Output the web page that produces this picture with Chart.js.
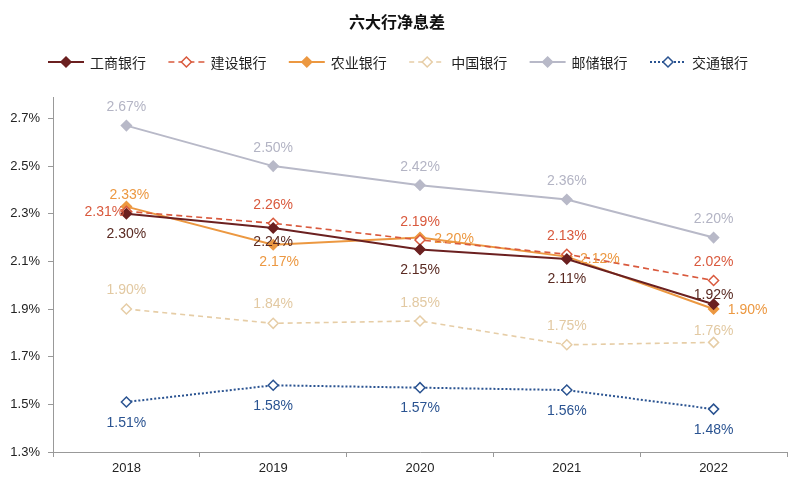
<!DOCTYPE html>
<html><head><meta charset="utf-8">
<script src="https://cdn.jsdelivr.net/npm/chart.js@4"></script>
<style>html,body{margin:0;padding:0;background:#fff}#wrap{width:800px;height:480px}</style>
</head><body><div id="wrap"><canvas id="c" width="800" height="480"></canvas></div>
<script>
const years = ['2018','2019','2020','2021','2022'];
const icbc = [2.30, 2.24, 2.15, 2.11, 1.92];
const ccb  = [2.31, 2.26, 2.19, 2.13, 2.02];
const abc  = [2.33, 2.17, 2.20, 2.12, 1.90];
const boc  = [1.90, 1.84, 1.85, 1.75, 1.76];
const psbc = [2.67, 2.50, 2.42, 2.36, 2.20];
const bocom = [1.51, 1.58, 1.57, 1.56, 1.48];
const seriesNames = ['工商银行','建设银行','农业银行','中国银行','邮储银行','交通银行'];
const yTickValues = [1.3, 1.5, 1.7, 1.9, 2.1, 2.3, 2.5, 2.7];
const titleText = '六大行净息差';

// label placement (pixel offsets from each point)
const labelOffsets = [
  [[0,20],[0,14],[0,21],[0,20],[0,-9]],
  [[-22,1],[0,-18],[0,-18],[0,-18],[0,-18]],
  [[3,-11],[6,17],[34,2],[33,3],[34,1]],
  [[0,-19],[0,-19],[0,-18],[0,-19],[0,-11]],
  [[0,-18],[0,-18],[0,-18],[0,-18],[0,-18]],
  [[0,21],[0,21],[0,20],[0,21],[0,21]]
];
const styles = [
  {color:'#6b2020', label:'#5a2a22', dash:[], width:2, fill:true},
  {color:'#d9593d', label:'#d9593d', dash:[6,4], width:1.6, fill:false},
  {color:'#ec9841', label:'#ec9841', dash:[], width:2, fill:true},
  {color:'#e6cda6', label:'#e2c9a2', dash:[5,4], width:1.6, fill:false},
  {color:'#b8b9c8', label:'#b3b4c4', dash:[], width:2, fill:true},
  {color:'#2a5391', label:'#2a5391', dash:[2,2], width:2, fill:false}
];
const allData = [icbc, ccb, abc, boc, psbc, bocom];

const datasets = allData.map((d,i)=>({
  label: seriesNames[i],
  data: d,
  borderColor: styles[i].color,
  backgroundColor: styles[i].fill ? styles[i].color : '#ffffff',
  borderWidth: styles[i].width,
  borderDash: styles[i].dash,
  pointStyle: 'rectRot',
  pointRadius: 5,
  pointBorderWidth: 1.5,
  pointBorderColor: styles[i].color,
  pointBackgroundColor: styles[i].fill ? styles[i].color : '#ffffff',
  tension: 0,
  fill: false
}));

const FONT = '"Liberation Sans", Arial, sans-serif';
const CJK = '"Noto Sans CJK SC", "Liberation Sans", sans-serif';

const decor = {
  id: 'decor',
  afterDatasetsDraw(chart) {
    const ctx = chart.ctx;
    ctx.save();
    ctx.font = '14px ' + FONT;
    ctx.textAlign = 'center';
    ctx.textBaseline = 'middle';
    chart.data.datasets.forEach((ds, i) => {
      const meta = chart.getDatasetMeta(i);
      meta.data.forEach((pt, j) => {
        const off = labelOffsets[i][j];
        ctx.fillStyle = styles[i].label;
        ctx.fillText(ds.data[j].toFixed(2) + '%', pt.x + off[0], pt.y + off[1]);
      });
    });
    ctx.restore();
  },
  afterDraw(chart) {
    const ctx = chart.ctx;
    ctx.save();
    ctx.fillStyle = '#111';
    ctx.font = 'bold 16px ' + CJK;
    ctx.textAlign = 'center';
    ctx.textBaseline = 'middle';
    ctx.fillText(titleText, 397, 22);
    // legend
    const ly = 62;
    ctx.font = '14px ' + CJK;
    ctx.textAlign = 'left';
    seriesNames.forEach((name, i) => {
      const x0 = 48 + i * 120.4;
      const s = styles[i];
      ctx.strokeStyle = s.color;
      ctx.lineWidth = s.width;
      ctx.setLineDash(s.dash);
      ctx.beginPath();
      ctx.moveTo(x0, ly); ctx.lineTo(x0 + 36, ly);
      ctx.stroke();
      ctx.setLineDash([]);
      const mx = x0 + 18, r = 5;
      ctx.beginPath();
      ctx.moveTo(mx, ly - r); ctx.lineTo(mx + r, ly); ctx.lineTo(mx, ly + r); ctx.lineTo(mx - r, ly); ctx.closePath();
      ctx.fillStyle = s.fill ? s.color : '#fff';
      ctx.fill();
      ctx.lineWidth = 1.5;
      ctx.stroke();
      ctx.fillStyle = '#222';
      ctx.fillText(name, x0 + 42, ly + 1);
    });
    ctx.restore();
  }
};

new Chart(document.getElementById('c'), {
  type: 'line',
  data: { labels: years, datasets },
  options: {
    responsive: false,
    animation: false,
    layout: { padding: { top: 97, left: 0, right: 13, bottom: 0 } },
    plugins: { legend: { display: false }, title: { display: false }, tooltip: { enabled: false } },
    scales: {
      x: {
        offset: true,
        grid: { offset: true, drawOnChartArea: false, drawTicks: true, tickLength: 5, color: '#999' },
        border: { display: true, color: '#999', width: 1 },
        ticks: { color: '#222', font: { size: 13, family: FONT }, padding: 4 },
        afterFit(s) { s.height = 28; }
      },
      y: {
        min: 1.3, max: 2.79,
        afterBuildTicks(s) { s.ticks = yTickValues.map(v => ({ value: v })); },
        grid: { drawOnChartArea: false, drawTicks: true, tickLength: 5, color: '#999' },
        border: { display: true, color: '#999', width: 1 },
        ticks: { color: '#222', font: { size: 13, family: FONT }, padding: 8,
                 callback: v => v.toFixed(1) + '%' },
        afterFit(s) { s.width = 53; }
      }
    }
  },
  plugins: [decor]
});
</script></body></html>
